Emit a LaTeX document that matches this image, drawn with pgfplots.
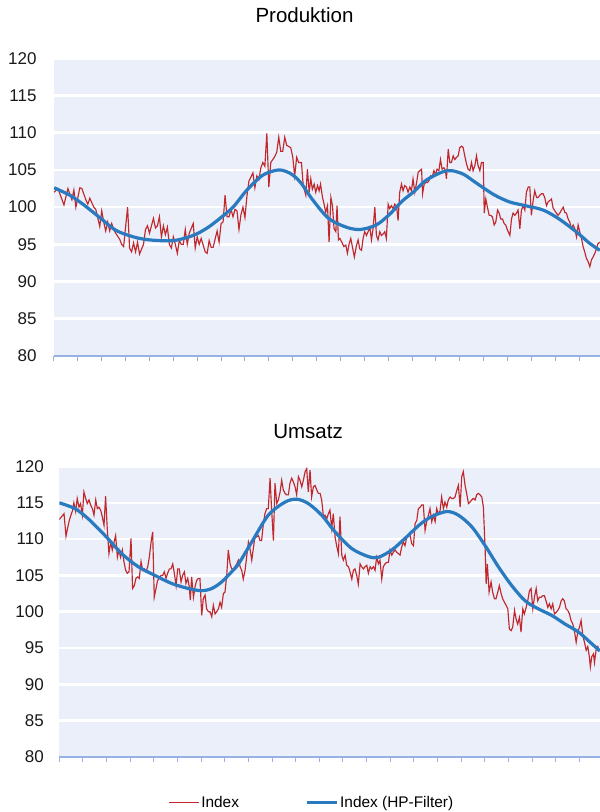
\documentclass[border=0pt]{standalone}
\usepackage{fontspec}
\setmainfont{Liberation Sans}
\usepackage{pgfplots}
\pgfplotsset{compat=1.18}
\usepackage{pgfplotstable}
\definecolor{bgl}{RGB}{234,239,250}
\definecolor{axb}{RGB}{150,178,228}
\definecolor{idxred}{RGB}{192,40,44}
\definecolor{hpblue}{RGB}{42,122,192}

\pgfplotstableread{
x y
0 102.0
2 102.5
5 100.3
7 102.5
9 101.0
10 102.3
11 100.0
13 102.6
14 102.5
16 101.0
17 100.4
18 101.2
20 100.0
21 99.7
23 97.4
24 99.5
25 98.0
26 96.8
27 98.0
28 96.8
29 97.8
30 97.0
31 96.5
33 95.7
34 95.0
35 94.7
37 100.0
38 94.5
39 94.0
40 95.2
41 94.0
42 95.3
43 93.7
45 95.0
46 97.0
47 97.5
48 96.5
49 97.5
50 98.5
51 97.2
52 97.5
53 98.7
54 96.0
55 97.5
56 96.3
57 97.3
58 95.0
59 94.5
60 96.0
61 95.0
62 93.8
63 95.5
64 95.0
65 95.0
66 97.0
67 95.0
68 96.5
70 97.8
71 94.5
72 96.0
73 95.0
74 95.8
76 94.0
77 93.8
78 95.5
79 94.6
80 94.6
82 96.8
83 95.3
84 97.8
85 98.0
86 101.6
87 98.7
88 98.7
89 99.7
90 98.7
91 99.7
92 99.5
93 97.0
94 99.0
95 100.0
96 98.6
97 101.5
98 103.5
100 104.6
101 102.6
102 104.2
103 103.7
104 105.3
105 106.0
106 105.5
107 109.9
108 102.7
109 106.0
111 106.8
112 107.4
113 109.4
114 107.5
115 107.5
116 109.4
117 108.3
119 108.0
120 106.8
121 104.2
122 106.7
123 106.0
124.4 106.0
125.3 102.9
126.6 101.6
127.4 105.1
128.3 102.0
129.1 103.8
129.9 102.4
130.8 103.1
131.6 102.0
132.5 102.9
133.3 102.2
134.0 103.1
135.0 101.3
135.8 100.4
136.6 99.3
137.5 100.2
138.3 95.3
139.2 101.3
140.0 100.2
140.8 97.1
141.7 96.7
142.3 100.2
143.0 95.6
143.7 95.8
144.7 95.3
145.7 94.7
146.7 94.9
147.5 93.8
148.4 95.1
149.2 95.8
150.0 94.7
151.0 93.3
152.1 94.9
152.9 95.6
153.7 94.4
154.6 94.2
155.4 95.8
156.2 96.7
157.1 96.2
157.9 96.7
158.8 97.3
159.6 95.6
160.4 97.1
161.3 100.0
162.1 96.2
162.9 95.6
163.8 96.7
164.6 96.2
165.5 96.4
166.3 96.7
167.1 95.8
168.0 100.4
168.8 99.8
169.6 100.2
170.5 99.8
171.3 100.4
172.2 100.2
173.0 98.2
173.8 102.0
174.7 103.1
175.5 102.2
176.3 102.9
177.2 102.7
178.0 102.0
178.9 102.7
179.7 102.2
180.5 103.8
181.4 102.0
182.3 103.3
183.1 104.7
183.9 104.9
184.8 105.1
185.3 101.8
186.1 103.1
186.9 103.3
187.8 103.3
188.6 103.6
189.3 104.2
190.1 104.0
191.0 104.9
191.8 104.4
192.6 105.1
193.5 104.9
194.3 106.4
195.1 105.1
196.0 105.3
196.8 104.9
197.3 103.8
198.2 107.8
199.0 106.0
199.8 106.0
200.7 106.9
201.5 106.4
202.4 106.7
203.2 106.9
204.0 108.0
204.9 108.2
205.7 108.0
206.5 106.9
207.4 105.8
208.2 105.1
209.1 104.9
209.9 106.0
210.7 104.9
211.6 105.6
212.4 106.9
213.2 105.6
214.1 104.9
214.9 106.0
215.8 106.0
216.3 99.2
217.1 101.1
217.9 100.0
218.8 98.9
219.6 98.9
220.4 98.7
221.3 97.6
222.1 98.0
223.0 99.6
223.8 99.2
224.6 98.4
225.5 98.4
226.3 97.8
227.1 97.6
228.0 96.9
229.2 96.2
230.0 98.4
230.8 99.2
231.7 98.9
232.5 99.2
233.3 99.6
234.2 97.1
235.0 99.6
235.9 100.2
236.7 99.6
237.5 102.0
238.4 102.7
239.2 102.7
240.0 98.9
240.9 100.9
241.7 102.2
242.6 101.3
243.4 101.3
244.2 101.6
245.1 101.8
245.9 101.8
246.7 101.3
247.6 100.2
248.4 100.7
249.3 100.9
250.1 101.1
250.9 99.9
251.8 99.5
252.6 99.2
253.4 98.9
254.3 99.2
255.1 99.6
256.0 100.0
256.8 99.3
257.6 99.2
258.5 98.4
259.3 98.0
260.1 97.1
261.0 97.6
261.8 97.1
262.7 96.0
263.5 97.6
264.3 96.7
265.2 95.8
266.0 94.7
266.8 94.0
267.7 93.1
268.5 92.7
269.4 92.0
270.2 92.9
271.0 93.3
271.9 93.8
272.7 94.4
273.5 95.1
274.4 95.3
}\prodidx

\pgfplotstableread{
x y
0 102.6
8 101.6
15 100.3
23 98.6
31 96.9
40 96.0
48 95.6
60 95.5
70 96.2
77 97.2
83 98.4
90 100.0
97 102.3
105 104.3
113 105.0
119 104.5
124 103.3
130 101.0
138 98.5
147 97.3
154 97.0
162 97.6
169 99.1
175 100.8
181 102.1
187 103.6
195 104.7
200 104.9
206 104.4
212 103.3
221 101.7
229 100.7
237 100.2
246 99.6
254 98.4
263 96.6
269 95.2
274.4 94.2
}\prodhp

\pgfplotstableread{
x y
0.0 112.7
1.2 113.1
2.4 113.5
3.4 110.4
4.2 111.5
5.1 112.6
5.9 113.3
6.8 114.0
7.4 115.0
8.3 113.8
9.1 115.6
10.0 114.4
10.8 114.9
11.7 113.3
12.5 116.5
13.4 115.6
14.2 114.9
15.1 115.4
15.9 114.7
16.8 114.2
17.6 113.3
18.5 115.4
19.3 114.2
20.1 114.4
21.0 114.0
21.8 113.1
22.7 111.9
23.5 115.9
24.4 111.2
25.2 108.0
26.1 109.6
26.9 108.5
27.8 109.6
28.6 110.5
29.5 107.5
30.3 108.5
31.1 107.5
32.0 108.5
32.8 106.9
33.7 105.7
34.5 105.3
35.4 105.5
36.4 110.1
37.2 103.2
38.1 103.6
38.9 104.6
39.8 104.8
40.6 104.6
41.5 106.9
42.3 105.7
43.2 105.9
44.0 105.5
44.9 106.2
45.7 107.5
46.6 109.6
47.4 111.0
48.2 102.0
49.1 103.2
49.9 104.3
50.8 104.6
51.6 105.0
52.5 105.0
53.3 105.5
54.2 104.6
55.0 105.3
55.9 105.9
56.7 105.9
57.6 106.6
58.4 105.3
59.3 103.6
60.1 105.9
60.9 105.9
61.8 104.1
62.6 105.0
63.5 105.5
64.3 103.9
65.2 104.6
66.0 103.4
66.5 101.6
67.2 104.8
68.1 102.0
68.9 103.4
69.7 104.3
70.6 104.6
71.4 104.6
72.3 99.5
73.1 101.8
74.0 102.3
74.8 100.4
75.7 100.0
76.5 100.0
77.4 99.3
78.2 100.9
79.1 99.7
79.9 100.0
80.8 100.4
81.6 101.3
82.4 100.6
83.3 102.5
84.1 102.7
85.0 105.0
85.8 108.5
86.7 106.6
87.5 105.9
88.4 105.9
89.2 106.2
90.1 106.6
90.9 107.1
91.8 106.2
92.6 105.7
93.4 104.5
94.3 105.7
95.1 107.5
96.0 109.6
96.8 108.7
97.7 107.1
98.5 108.7
99.4 110.5
100.2 110.3
101.1 110.5
101.9 109.8
102.7 109.8
103.6 112.1
104.4 113.5
105.3 114.2
106.1 114.2
107.0 118.4
107.8 114.0
108.7 109.8
109.5 117.7
110.4 114.9
111.2 115.4
112.1 116.5
112.9 118.1
113.7 116.8
114.6 116.3
115.4 116.1
116.3 116.1
117.1 117.7
118.0 118.4
118.8 117.9
119.7 117.2
120.5 116.1
121.4 118.6
122.2 118.1
123.1 117.2
123.9 118.1
124.8 119.3
125.6 119.7
126.4 116.5
127.3 119.5
128.1 115.8
129.0 117.2
129.8 117.4
130.7 116.8
131.5 116.3
132.4 116.3
133.2 115.4
134.1 113.1
134.9 113.3
135.8 112.8
136.6 113.5
137.4 114.0
138.3 111.5
139.1 113.5
140.0 110.3
140.8 109.1
141.7 108.0
142.5 113.1
143.4 107.8
144.2 107.1
145.1 107.8
145.9 106.4
146.8 106.2
147.6 105.5
148.5 104.5
149.3 105.7
150.1 105.9
151.0 105.0
151.8 103.8
152.7 106.6
153.5 106.2
154.4 105.9
155.2 106.2
156.1 106.4
156.9 105.3
157.8 106.2
158.6 105.9
159.5 106.2
160.3 105.7
161.1 107.5
162.0 106.6
162.8 107.1
163.7 104.5
164.5 106.2
165.4 106.6
166.2 106.8
167.1 106.8
167.9 108.5
168.8 107.8
169.6 108.2
170.5 108.5
171.3 108.2
172.2 108.0
173.0 107.8
173.8 108.9
174.7 109.6
175.5 109.1
176.4 110.3
177.2 110.5
178.1 110.5
178.9 109.4
179.8 109.1
180.6 112.1
181.5 112.6
182.3 114.2
183.2 114.4
184.0 114.7
184.8 114.7
185.7 111.2
186.5 112.4
187.4 113.3
188.2 114.2
189.1 112.4
189.9 113.3
190.8 112.4
191.6 114.2
192.4 113.5
193.3 113.9
194.1 115.8
195.0 114.2
195.8 115.1
196.7 114.4
197.5 115.4
198.4 115.8
199.2 115.6
200.1 115.6
200.9 115.8
201.8 116.7
202.6 117.4
203.5 114.4
204.3 118.6
205.1 119.3
206.0 117.4
206.8 116.3
207.7 114.9
208.5 115.1
209.4 115.4
210.2 115.6
211.1 115.4
211.9 116.1
212.8 116.3
213.6 116.1
214.5 115.8
215.3 114.4
216.2 108.5
216.7 103.8
217.3 106.6
218.2 102.7
219.2 104.1
220.0 102.7
220.9 101.8
221.7 101.8
222.6 102.7
223.4 103.6
224.3 102.5
225.1 101.8
226.0 101.3
226.8 100.9
227.7 100.4
228.5 97.6
229.4 97.4
230.2 97.9
231.1 100.2
231.9 99.0
232.7 98.3
233.6 99.2
234.4 97.2
235.3 100.4
236.1 99.7
237.0 100.6
237.8 101.5
238.7 102.9
239.5 103.2
240.4 100.4
241.2 102.0
242.1 103.2
242.9 101.5
243.7 102.0
244.6 102.0
245.4 102.2
246.3 102.2
247.1 101.5
248.0 100.6
248.8 101.1
249.7 100.4
250.5 101.1
251.4 99.7
252.2 99.9
253.1 100.2
253.9 100.6
254.8 101.5
255.6 101.8
256.4 101.5
257.3 100.4
258.1 100.2
259.0 99.7
259.8 98.8
260.7 98.3
261.5 97.4
262.4 95.8
263.2 97.2
264.1 97.9
264.9 98.8
265.8 96.7
266.6 95.8
267.5 94.7
268.3 95.2
269.1 93.8
269.6 92.4
270.3 93.8
271.2 94.2
271.7 93.0
272.5 94.7
273.4 95.2
274.2 94.7
}\umsidx

\pgfplotstableread{
x y
0 115.0
8 114.2
14.7 112.8
23.2 110.5
31.7 108.0
40.1 106.2
48.6 105.0
57 103.9
65.5 103.2
72.3 102.9
77.4 103.2
82.4 104.1
87.5 105.5
91 106.6
97.7 109.6
106.1 113.3
114.6 115.1
120.5 115.5
126.4 114.9
133.2 113.3
140 111.0
148.5 108.7
156.9 107.6
162 107.5
168.8 108.5
175.5 110.1
183 112.0
189 113.1
196.7 113.8
202.6 113.3
209.4 111.7
216.2 109.1
222.9 106.2
229.7 103.6
236.5 101.5
243.2 100.4
250 99.5
256.8 98.3
263.6 97.2
270.3 95.6
274.4 94.6
}\umshp

\pgfplotsset{
  panel/.style={
    scale only axis,
    xmin=0, xmax=274.5,
    ymin=80, ymax=120,
    ytick={80,85,...,120},
    xtick={0,12,...,264},
    xticklabels={},
    axis x line*=bottom,
    axis y line*=left,
    x axis line style={draw=axb, line width=1.2pt, -},
    y axis line style={draw=none},
    ytick style={draw=none},
    xtick style={draw=axb, line width=1pt},
    tick align=outside,
    major tick length=5pt,
    ymajorgrids,
    major grid style={draw=white, line width=2.6pt},
    axis background/.style={fill=bgl},
    /pgf/number format/assume math mode=true,
    yticklabel style={font=\fontsize{17}{20}\selectfont, text=black!90},
    title style={font=\fontsize{20.5}{24}\selectfont, anchor=base},
  },
}

\begin{document}
\begin{tikzpicture}
\useasboundingbox (0,0) rectangle (600pt,812pt);
\begin{axis}[panel,
  at={(54pt,456pt)}, anchor=south west,
  width=546pt, height=297.7pt,
  title={Produktion},
  title style={at={(0.4588,1)}, yshift=30pt},
  yticklabel style={xshift=-9pt},
]
\addplot[idxred, line width=1.15pt, no marks] table {\prodidx};
\addplot[hpblue, line width=3.2pt, no marks, smooth] table {\prodhp};
\end{axis}
\begin{axis}[panel,
  at={(59.3pt,55pt)}, anchor=south west,
  width=540.7pt, height=290.5pt,
  title={Umsatz},
  title style={at={(0.46,1)}, yshift=22pt},
  yticklabel style={xshift=-7pt},
  legend columns=2,
  legend style={at={(0.2010,-0.157)}, anchor=west, draw=none, fill=none,
    inner xsep=0pt, inner ysep=0pt,
    font=\fontsize{15.4}{18}\selectfont,
    /tikz/every even column/.append style={column sep=64pt}},
  legend image code/.code={\draw[#1] (0pt,0pt) -- (30pt,0pt);},
]
\addplot[idxred, line width=1.15pt, no marks] table {\umsidx};
\addlegendentry{Index}
\addplot[hpblue, line width=3.2pt, no marks, smooth] table {\umshp};
\addlegendentry{Index (HP-Filter)}
\end{axis}
\end{tikzpicture}
\end{document}
